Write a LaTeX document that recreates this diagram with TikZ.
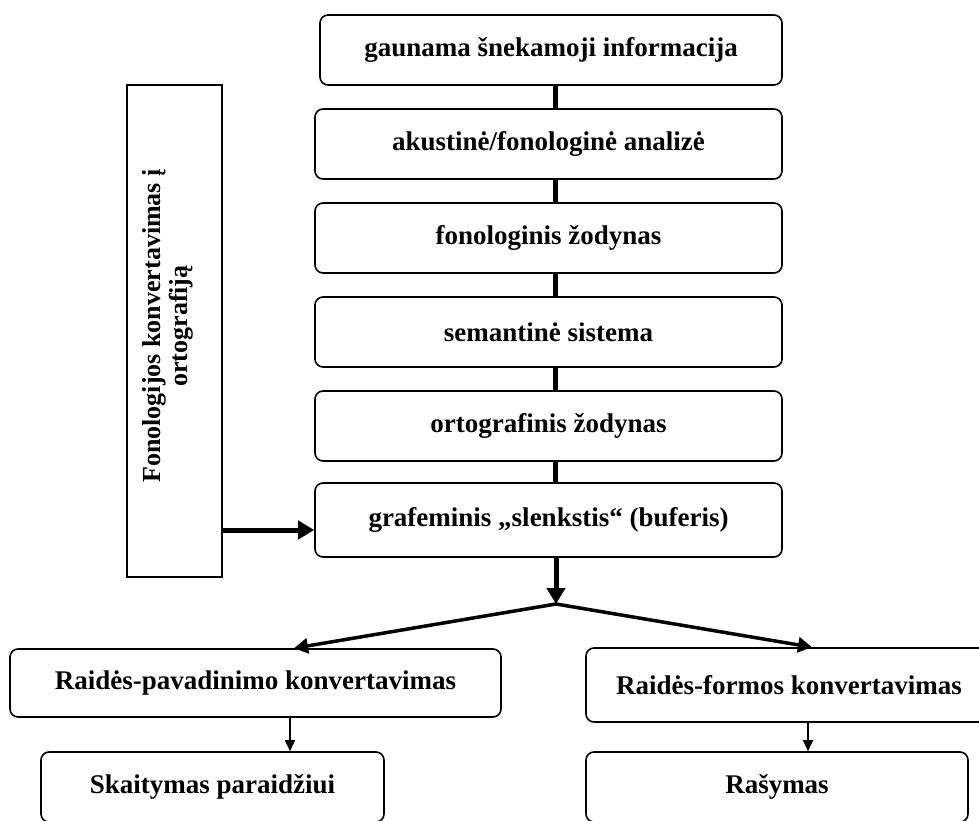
\documentclass[tikz,border=0pt]{standalone}
\usepackage{fontspec}
\setmainfont{Liberation Serif}
\usetikzlibrary{arrows.meta}

\tikzset{
  flowbox/.style={draw, line width=1.6pt, rounded corners=8pt, inner sep=0pt,
    font=\fontsize{27}{30}\selectfont\bfseries, align=center},
  sidebox/.style={draw, line width=1.6pt, inner sep=0pt},
  chain/.style={line width=5pt},
  bigarrow/.style={line width=5pt, -{Triangle[length=16pt,width=18pt]}},
  splitarrow/.style={line width=3.5pt, -{Triangle[length=14pt,width=15pt]}},
  smallarrow/.style={line width=1.5pt, -{Triangle[length=11pt,width=10pt]}},
}

\begin{document}
\begin{tikzpicture}[x=1pt, y=-1pt]
  \useasboundingbox (0,0) rectangle (979,821);

  % main column
  \node[flowbox, minimum width=462pt, minimum height=70pt] (b1) at (551,50) {gaunama šnekamoji informacija};
  \node[flowbox, minimum width=467pt, minimum height=70pt] (b2) at (548.5,144) {akustinė/fonologinė analizė};
  \node[flowbox, minimum width=467pt, minimum height=70pt] (b3) at (548.5,238) {fonologinis žodynas};
  \node[flowbox, minimum width=467pt, minimum height=70pt] (b4) at (548.5,332) {semantinė sistema};
  \node[flowbox, minimum width=467pt, minimum height=70pt] (b5) at (548.5,426) {ortografinis žodynas};
  \node[flowbox, minimum width=467pt, minimum height=74pt] (b6) at (548.5,520) {grafeminis „slenkstis“ (buferis)};

  \foreach \a/\b in {b1/b2, b2/b3, b3/b4, b4/b5, b5/b6}
    \draw[chain] (\a.south -| 555,0) -- (\b.north -| 555,0);

  % side box with rotated label
  \node[sidebox, minimum width=95pt, minimum height=492pt] (side) at (174.5,331) {};
  \node[rotate=90, align=center, font=\fontsize{26}{27}\selectfont\bfseries] (sidetext) at (168,326)
    {Fonologijos konvertavimas į\\ortografiją};
  \draw[bigarrow] (side.east |- 0,530) -- (b6.west |- 0,530);

  % split
  \coordinate (split) at (556,604);
  \draw[bigarrow] (b6.south -| split) -- (split);

  % lower boxes
  \node[flowbox, minimum width=491pt, minimum height=68pt] (l1) at (255.5,683) {Raidės-pavadinimo konvertavimas};
  \node[flowbox, minimum width=406pt, minimum height=74pt] (r1) at (789,685) {Raidės-formos konvertavimas};
  \node[flowbox, minimum width=343pt, minimum height=70pt] (l2) at (212.5,787) {Skaitymas paraidžiui};
  \node[flowbox, minimum width=382pt, minimum height=70pt] (r2) at (777,787) {Rašymas};

  \draw[splitarrow] (split) -- (l1.north -| 294,0);
  \draw[splitarrow] (split) -- (r1.north -| 812,0);

  \draw[smallarrow] (l1.south -| 290,0) -- (l2.north -| 290,0);
  \draw[smallarrow] (r1.south -| 808,0) -- (r2.north -| 808,0);
\end{tikzpicture}
\end{document}
